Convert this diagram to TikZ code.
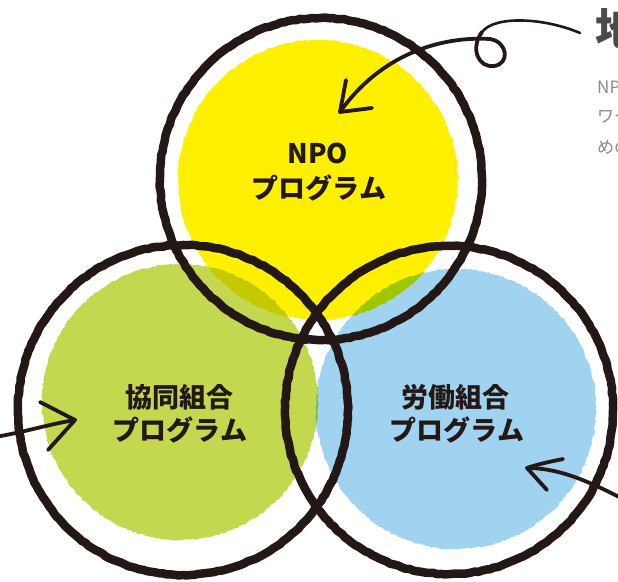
\documentclass[tikz,border=0pt]{standalone}
\usepackage{fontspec}
\newfontfamily\jp{Noto Sans CJK JP}
\usetikzlibrary{decorations.pathmorphing}
\definecolor{ink}{HTML}{231815}
\definecolor{cyellow}{HTML}{FFF000}
\definecolor{cgreen}{HTML}{C3D84E}
\definecolor{cblue}{HTML}{A0D3F0}
\definecolor{gtext}{HTML}{8A8A8A}
\definecolor{gbig}{HTML}{4A4A4A}
\begin{document}
\begin{tikzpicture}[x=1pt,y=-1pt,
  fillc/.style={blend mode=multiply, decorate, decoration={random steps,segment length=2.5pt,amplitude=0.8pt}},
  ring/.style={draw=ink, line width=8.5pt, line join=round, decorate, decoration={random steps, segment length=4pt, amplitude=0.5pt}},
  arr/.style={draw=ink, line width=3.8pt, line cap=round, line join=round},
  lbl/.style={font=\jp\bfseries\fontsize{27}{33}\selectfont, text=ink, align=center, inner sep=0pt},
  side/.style={anchor=west, inner sep=0pt, font=\jp\fontsize{17}{20}\selectfont, text=gtext}]
\useasboundingbox (0,0) rectangle (618,581);
\clip (0,0) rectangle (618,581);
\fill[white] (0,0) rectangle (618,581);
% coloured discs
\path[fillc, fill=cgreen] (180,402) circle (138);
\path[fillc, fill=cblue] (456,409) circle (140);
\path[fillc, fill=cyellow] (318,180) circle (140);
% black rings
\path[ring] (321,179) circle (161);
\path[ring] (183,410) circle (165);
\path[ring] (449,410) circle (164);
% labels
\node[lbl] (npo) at (318,153) {NPO};
\node[lbl] (npop) at (319,188) {プログラム};
\node[lbl] (kyo) at (179,397) {協同組合};
\node[lbl] (kyop) at (180,430) {プログラム};
\node[lbl] (ro) at (455,397) {労働組合};
\node[lbl] (rop) at (457,430) {プログラム};
% side text (cut by the frame, as in the reference)
\node[anchor=north west, inner sep=0pt, font=\jp\bfseries\fontsize{44}{44}\selectfont, text=gbig] (title) at (595,8) {地};
\node[side] (s1) at (597,87) {NPO};
\node[side] (s2) at (597,117) {ワー};
\node[side] (s3) at (597,147) {めの};
% arrows
\coordinate (t0) at (580,33);
\coordinate (tm) at (482,32);
\coordinate (t1) at (340,112);
\coordinate (t1a) at (346,80);
\coordinate (t1b) at (372,108);
\draw[arr, line width=2.6pt] (t0) .. controls (545,18) and (495,15) .. (tm);
\draw[arr] (tm) .. controls (470,48) and (478,68) .. (494,66) .. controls (510,64) and (508,42) .. (490,39) .. controls (440,36) and (380,55) .. (t1);
\draw[arr] (t1a) -- (t1) -- (t1b);
\coordinate (l0) at (-5,437);
\coordinate (l1) at (75,420);
\coordinate (l1a) at (40,402);
\coordinate (l1b) at (48,450);
\draw[arr] (l0) .. controls (25,432) and (50,424) .. (l1);
\draw[arr] (l1a) -- (l1) -- (l1b);
\coordinate (r0) at (625,500);
\coordinate (r1) at (527,468);
\coordinate (r1a) at (563,459);
\coordinate (r1b) at (547,490);
\draw[arr] (r0) .. controls (590,482) and (560,468) .. (r1);
\draw[arr] (r1a) .. controls (548,462) and (535,465) .. (r1) -- (r1b);
\end{tikzpicture}
\end{document}
